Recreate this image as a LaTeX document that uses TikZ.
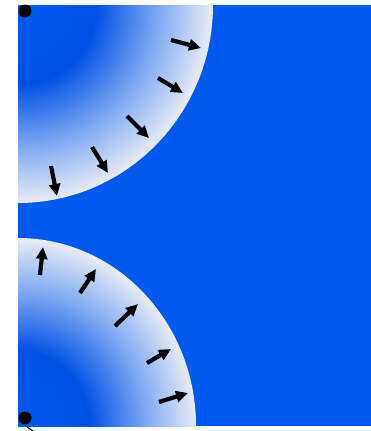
\documentclass[tikz,border=0pt]{standalone}
\usetikzlibrary{arrows.meta}

\definecolor{plateblue}{RGB}{0,89,238}
\definecolor{deepblue}{RGB}{0,80,228}
\definecolor{rimwhite}{RGB}{232,236,246}
\pgfdeclareradialshading{rimfade}{\pgfpoint{0bp}{0bp}}{%
  color(0bp)=(plateblue); color(10bp)=(deepblue);
  color(18bp)=(plateblue!45!rimwhite); color(25bp)=(rimwhite);
  color(50bp)=(rimwhite)}

\begin{document}
\begin{tikzpicture}[x=1pt, y=-1pt, >={Triangle[length=12pt,width=11pt]}]
    \useasboundingbox (0,0) rectangle (371,431);

    % plate
    \fill[plateblue] (18,5) rectangle (371,426);

    % two faded quarter disks
    \begin{scope}
        \clip (18,5) rectangle (371,426);
        \shade[shading=rimfade] (18,5) ellipse [x radius=195, y radius=198];
        \shade[shading=rimfade] (18,426) ellipse [x radius=178, y radius=188];
    \end{scope}

    % corner dots
    \fill (25,11) circle (6.5);
    \fill (25,418) circle (6.5);
    \draw[line width=1pt] (27,427) -- (33,431);

    % arrows at the upper rim
    \foreach \tx/\ty/\hx/\hy in {171/40/201/48, 158/78/183/93, 127/116/149/138,
                                 92/147/108/173, 51/166/57/196} {
        \draw[->, line width=4.2pt] (\tx,\ty) -- (\hx,\hy);
    }

    % arrows at the lower rim
    \foreach \tx/\ty/\hx/\hy in {40/275/43/247, 80/293/96/269, 115/326/138/304,
                                 147/363/171/349, 159/402/188/393} {
        \draw[->, line width=4.2pt] (\tx,\ty) -- (\hx,\hy);
    }
\end{tikzpicture}
\end{document}
